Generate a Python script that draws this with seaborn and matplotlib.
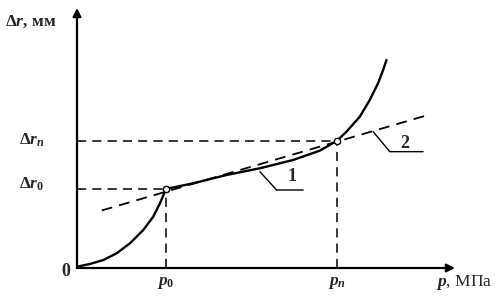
import matplotlib
matplotlib.use("Agg")
import matplotlib.pyplot as plt
import seaborn as sns
import pandas as pd

# ---- data (arbitrary units: p0 = 1, dr0 = 1) ----
curve_p = [0.0, 0.146, 0.296, 0.446, 0.596, 0.745, 0.857, 0.933, 1.0,
           1.307, 1.682, 2.056, 2.430, 2.730, 2.921,
           3.030, 3.180, 3.292, 3.385, 3.442, 3.480]
curve_dr = [0.016, 0.051, 0.101, 0.186, 0.313, 0.481, 0.649, 0.819, 1.0,
            1.072, 1.177, 1.262, 1.367, 1.485, 1.608,
            1.725, 1.915, 2.127, 2.338, 2.506, 2.633]
line2_p = [0.278, 3.91]
line2_dr = [0.728, 1.924]
p0, pn = 1.0, 2.921
dr0, drn = 1.0, 1.608
x_max, y_max = 4.25, 3.29

sns.set_style("white")
plt.rcParams["mathtext.fontset"] = "custom"
plt.rcParams["mathtext.it"] = "Liberation Serif:italic:bold"
plt.rcParams["mathtext.rm"] = "Liberation Serif:bold"
plt.rcParams["font.family"] = ["Liberation Serif", "DejaVu Serif"]

W, H = 497, 301
fig = plt.figure(figsize=(W / 100, H / 100), dpi=100)
ax = fig.add_axes([77 / W, (H - 268) / H, (455 - 77) / W, (268 - 8) / H])
ax.set_xlim(0, x_max)
ax.set_ylim(0, y_max)
for s in ax.spines.values():
    s.set_visible(False)
ax.set_xticks([])
ax.set_yticks([])
ax.patch.set_alpha(0)

df = pd.DataFrame({"p": curve_p, "dr": curve_dr})
sns.lineplot(data=df, x="p", y="dr", ax=ax, color="black", lw=1.7, sort=False,
             estimator=None)
sns.lineplot(x=line2_p, y=line2_dr, ax=ax, color="black", lw=1.3,
             dashes=False, linestyle=(0, (6, 4)))

dash = dict(color="black", lw=1.1, linestyle=(0, (6, 4)))
ax.plot([0, p0], [dr0, dr0], **dash)
ax.plot([0, pn], [drn, drn], **dash)
ax.plot([p0, p0], [0, dr0], **dash)
ax.plot([pn, pn], [0, drn], **dash)

ax.plot([p0, pn], [dr0, drn], "o", ms=4.5, mfc="white", mec="black", mew=1.0)

# axes with arrows
ax.annotate("", xy=(1.0, 0), xytext=(0, 0), xycoords="axes fraction",
            arrowprops=dict(arrowstyle="-|>", color="black", lw=1.6,
                            mutation_scale=12, shrinkA=0, shrinkB=0))
ax.annotate("", xy=(0, 1.0), xytext=(0, 0), xycoords="axes fraction",
            arrowprops=dict(arrowstyle="-|>", color="black", lw=1.6,
                            mutation_scale=12, shrinkA=0, shrinkB=0))

# leader lines
ax.plot([2.056, 2.244, 2.543], [1.219, 0.987, 0.987], color="black", lw=1.0)
ax.plot([3.33, 3.517, 3.891], [1.725, 1.472, 1.472], color="black", lw=1.0)
ax.text(2.42, 1.154, "1", fontsize=13, fontweight="bold", ha="center", va="center")
ax.text(3.685, 1.578, "2", fontsize=13, fontweight="bold", ha="center", va="center")

fs = 12.5
fig.text(5 / W, 1 - 22 / H, r"$\Delta r$, мм", fontsize=fs, fontweight="bold",
         ha="left", va="center")
fig.text(19 / W, 1 - 140 / H, r"$\Delta r_n$", fontsize=fs, ha="left", va="center")
fig.text(19 / W, 1 - 184 / H, r"$\Delta r_0$", fontsize=fs, ha="left", va="center")
fig.text(61 / W, 1 - 271 / H, "0", fontsize=13, fontweight="bold", ha="left", va="center")
fig.text(166 / W, 1 - 283 / H, r"$p_0$", fontsize=fs, ha="center", va="center")
fig.text(337 / W, 1 - 283 / H, r"$p_n$", fontsize=fs, ha="center", va="center")
fig.text(436 / W, 1 - 283 / H, r"$p$, МПа", fontsize=fs,
         ha="left", va="center")

fig.savefig("out.png", dpi=100)
